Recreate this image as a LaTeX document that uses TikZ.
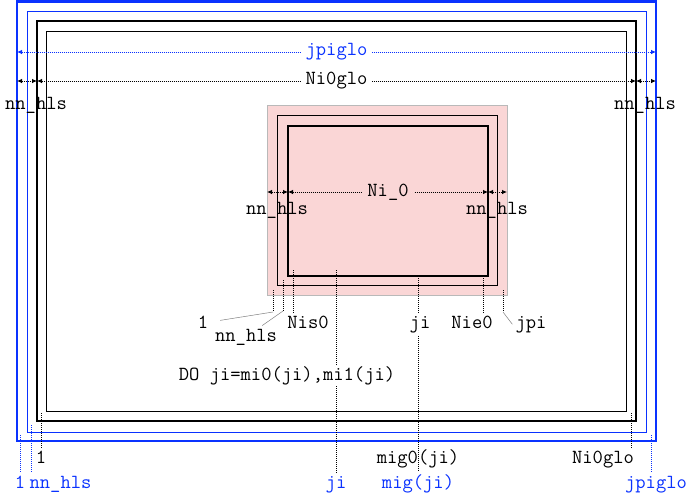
\documentclass[tikz,border=0pt]{standalone}
\usepackage{fontspec}
\usepackage{tikz}
\usetikzlibrary{arrows.meta}
\definecolor{gblue}{RGB}{10,50,255}
\definecolor{halopink}{RGB}{250,214,214}

\begin{document}
\begin{tikzpicture}[x=1pt,y=-1pt,
    lbl/.style={font=\fontsize{20}{22}\selectfont\ttfamily, inner sep=3pt, anchor=base},
    glbl/.style={lbl, text=gblue},
    tickline/.style={dash pattern=on 1pt off 1pt, line width=0.8pt},
    gtickline/.style={tickline, draw=gblue},
    dimline/.style={tickline, {Latex[length=5pt,width=4.5pt]}-{Latex[length=5pt,width=4.5pt]}},
    gdimline/.style={dimline, draw=gblue},
    leader/.style={draw=gray, line width=0.5pt}]

        \useasboundingbox (0,0) rectangle (693,496);

        % Global domain
        \draw[gblue, line width=2.7pt] (17,1.5) rectangle (656,441);
        \draw[gblue, line width=1pt] (27,11) rectangle (646,432);
        \draw[line width=2.5pt] (37,21) rectangle (636,421);
        \draw[line width=1pt] (46,31) rectangle (626,411);

        \coordinate (gW) at (17,52);
        \coordinate (gE) at (656,52);
        \draw[gdimline] (gW) -- (gE)
            node[midway, glbl, anchor=center, fill=white, inner xsep=5pt] (jpiglotop) {jpiglo};

        \coordinate (hW) at (17,81);
        \coordinate (iW) at (37,81);
        \coordinate (iE) at (636,81);
        \coordinate (hE) at (656,81);
        \draw[dimline] (hW) -- (iW);
        \draw[dimline] (iW) -- (iE)
            node[midway, lbl, anchor=center, fill=white, inner xsep=5pt] (niglotop) {Ni0glo};
        \draw[dimline] (iE) -- (hE);
        \node[lbl] (hlsW) at (36,109) {nn\_hls};
        \node[lbl] (hlsE) at (645,109) {nn\_hls};

        % Local subdomain
        \draw[draw=gray!55, fill=halopink] (267,105) rectangle (507,295);
        \draw[line width=1pt] (277,115) rectangle (497,285);
        \draw[line width=2pt] (288,126) rectangle (488,276);

        \coordinate (lW) at (267,192);
        \coordinate (lA) at (288,192);
        \coordinate (lB) at (488,192);
        \coordinate (lE) at (507,192);
        \draw[dimline] (lW) -- (lA);
        \draw[dimline] (lA) -- (lB)
            node[midway, lbl, anchor=center, fill=halopink, inner xsep=5pt] (nizero) {Ni\_0};
        \draw[dimline] (lB) -- (lE);
        \node[lbl] (hlsL) at (277,214) {nn\_hls};
        \node[lbl] (hlsR) at (497,214) {nn\_hls};

        % Local indices
        \node[lbl] (one) at (203,328) {1};
        \node[lbl] (hlsB) at (246,341) {nn\_hls};
        \node[lbl] (nis) at (308,328) {Nis0};
        \node[lbl] (jiloc) at (420,328) {ji};
        \node[lbl] (nie) at (472,328) {Nie0};
        \node[lbl] (jpi) at (531,328) {jpi};

        \coordinate (tone) at (273,290);
        \coordinate (tonee) at (273,312);
        \draw[tickline] (tone) -- (tonee);
        \draw[leader, shorten >=9pt] (tonee) -- (one.east);

        \coordinate (thls) at (283,280);
        \coordinate (thlse) at (283,311);
        \draw[tickline] (thls) -- (thlse);
        \draw[leader] (thlse) -- (hlsB);

        \coordinate (tnis) at (293,270);
        \draw[tickline] (tnis) -- (tnis |- nis.north);

        \coordinate (tji) at (418,276);
        \draw[tickline] (tji) -- (tji |- jiloc.north);

        \coordinate (tnie) at (483,276);
        \draw[tickline] (tnie) -- (tnie |- nie.north);

        \coordinate (tjpi) at (503,290);
        \coordinate (tjpie) at (503,312);
        \draw[tickline] (tjpi) -- (tjpie);
        \draw[leader] (tjpie) -- (jpi.west);

        % Global indices
        \node[lbl] (ione) at (41,463) {1};
        \node[lbl] (migzero) at (418,463) {mig0(ji)};
        \node[lbl] (niglo) at (603,463) {Ni0glo};
        \node[glbl] (gone) at (20,488) {1};
        \node[glbl] (ghls) at (60.5,488) {nn\_hls};
        \node[glbl] (gji) at (336,488) {ji};
        \node[glbl] (gmig) at (418,488) {mig(ji)};
        \node[glbl] (gjpiglo) at (656,488) {jpiglo};

        \coordinate (tione) at (41,413);
        \draw[tickline] (tione) -- (ione.north);
        \coordinate (tniglo) at (631,413);
        \draw[tickline] (tniglo) -- (tniglo |- niglo.north);
        \coordinate (tgone) at (20,435);
        \draw[gtickline] (tgone) -- (gone.north);
        \coordinate (tghls) at (31,425);
        \draw[gtickline] (tghls) -- (tghls |- ghls.north);
        \coordinate (tgjpiglo) at (651,435);
        \draw[gtickline] (tgjpiglo) -- (tgjpiglo |- gjpiglo.north);

        \coordinate (tgji) at (336,270);
        \draw[tickline] (tgji) -- (gji.north);
        \draw[tickline] (jiloc.south -| gmig) -- (gmig.north);

        % Loop
        \node[lbl, fill=white, inner sep=1pt] (doloop) at (287,380) {DO ji=mi0(ji),mi1(ji)};

    \end{tikzpicture}
\end{document}
